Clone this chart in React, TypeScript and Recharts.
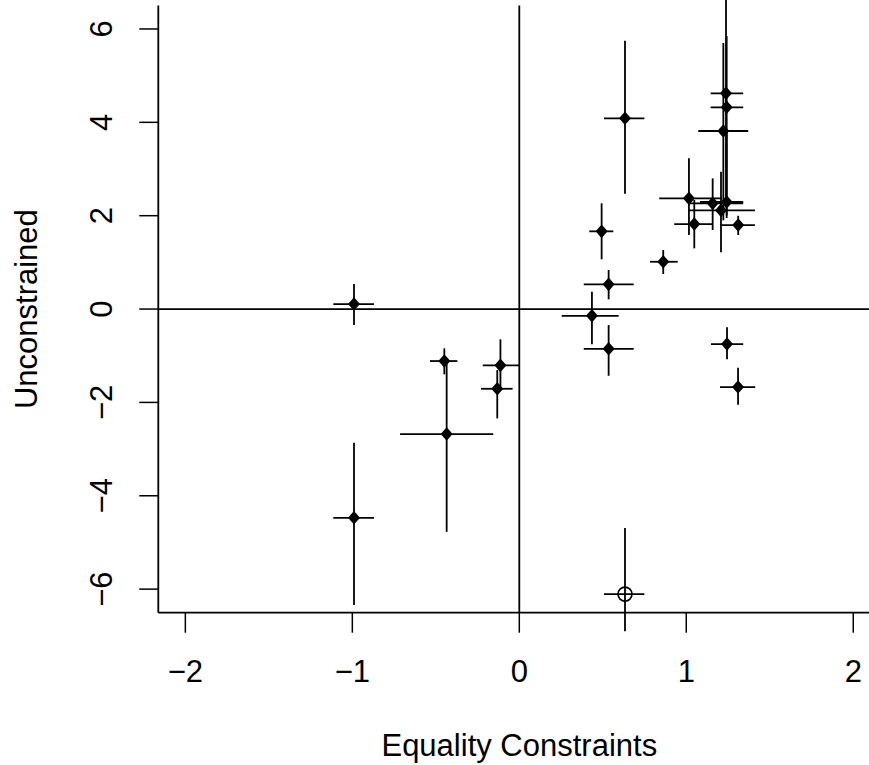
import { ScatterChart, Scatter, XAxis, YAxis, ReferenceLine, ErrorBar } from "recharts"

// point estimates (diamonds)
const xVals = [-0.99, -0.449, -0.435, -0.113, -0.132, -0.99, 0.435, 0.535, 0.535, 1.244, 1.31, 0.493, 0.862, 0.633, 1.016, 1.048, 1.158, 1.208, 1.242, 1.238, 1.242, 1.222, 1.311]
const yVals = [0.107, -1.114, -2.678, -1.206, -1.708, -4.472, -0.144, -0.851, 0.529, -0.75, -1.671, 1.665, 1.013, 4.086, 2.372, 1.821, 2.265, 2.115, 2.293, 4.622, 4.322, 3.814, 1.8]
// interval ends
const xLow = [-1.114, -0.535, -0.714, -0.219, -0.229, -1.114, 0.254, 0.386, 0.386, 1.148, 1.202, 0.419, 0.783, 0.507, 0.838, 0.928, 1.022, 1.012, 1.082, 1.146, 1.146, 1.072, 1.202]
const xHigh = [-0.87, -0.371, -0.156, -0.002, -0.04, -0.87, 0.595, 0.685, 0.685, 1.341, 1.413, 0.563, 0.949, 0.749, 1.212, 1.156, 1.341, 1.411, 1.341, 1.341, 1.341, 1.371, 1.411]
const yLow = [-0.343, -1.399, -4.772, -1.693, -2.342, -6.342, -0.756, -1.429, 0.208, -1.078, -2.051, 1.065, 0.75, 2.471, 1.586, 1.301, 1.693, 1.215, 1.95, 2.2, 2.0, 1.9, 1.586]
const yHigh = [0.536, -0.842, -1.129, -0.649, -1.307, -2.865, 0.371, -0.343, 0.836, -0.392, -1.258, 2.265, 1.264, 5.749, 3.229, 2.336, 2.8, 2.942, 3.835, 7.2, 5.85, 5.7, 1.999]

// the one open-circle point
const outlierX = [0.633]
const outlierY = [-6.107]
const outlierXLow = [0.507]
const outlierXHigh = [0.749]
const outlierYLow = [-6.9]
const outlierYHigh = [-4.693]

const xTicks = [-2, -1, 0, 1, 2]
const yTicks = [-6, -4, -2, 0, 2, 4, 6]
const xDomain = [-2.162, 2.162]
const yDomain = [-6.505, 6.503]

const FONT = "'Liberation Sans', Arial, Helvetica, sans-serif"
const FS = 31
const LW = 1.8

const toRows = (xs: number[], ys: number[], xl: number[], xh: number[], yl: number[], yh: number[]) =>
  xs.map((x, i) => ({
    x,
    y: ys[i],
    ex: [x - xl[i], xh[i] - x],
    ey: [ys[i] - yl[i], yh[i] - ys[i]],
  }))

const points = toRows(xVals, yVals, xLow, xHigh, yLow, yHigh)
const outliers = toRows(outlierX, outlierY, outlierXLow, outlierXHigh, outlierYLow, outlierYHigh)

const fmt = (v: number) => (v < 0 ? `\u2212${-v}` : `${v}`)

const XTick = ({ x, y, payload }: any) => (
  <text x={x} y={y} dy={49} textAnchor="middle" fontSize={FS} fontFamily={FONT} fill="#000">
    {fmt(payload.value)}
  </text>
)

const YTick = ({ x, y, payload }: any) => (
  <text x={x - 27} y={y} transform={`rotate(-90, ${x - 27}, ${y})`} textAnchor="middle" fontSize={FS} fontFamily={FONT} fill="#000">
    {fmt(payload.value)}
  </text>
)

const Diamond = ({ cx, cy }: any) => {
  const w = 6
  const h = 6.8
  return <path d={`M${cx},${cy - h}L${cx + w},${cy}L${cx},${cy + h}L${cx - w},${cy}Z`} fill="#000" />
}

const OpenCircle = ({ cx, cy }: any) => (
  <circle cx={cx} cy={cy} r={7} fill="none" stroke="#000" strokeWidth={1.6} />
)

export default function App() {
  return (
    <div style={{ position: "absolute", left: 0, top: 0, width: 869, height: 765, overflow: "hidden", background: "#fff" }}>
      <ScatterChart width={900} height={765} margin={{ top: 5.5, right: 19.7, bottom: 0, left: 0 }}>
        <XAxis
          type="number"
          dataKey="x"
          domain={xDomain}
          ticks={xTicks}
          allowDataOverflow
          height={152.3}
          tickSize={20}
          tickMargin={0}
          tick={<XTick />}
          tickLine={{ stroke: "#000", strokeWidth: 1.5 }}
          axisLine={{ stroke: "#000", strokeWidth: LW }}
          label={({ viewBox }: any) => (
            <text x={viewBox.x + viewBox.width / 2} y={viewBox.y + 143.3} textAnchor="middle" fontSize={FS} fontFamily={FONT} fill="#000">
              Equality Constraints
            </text>
          )}
        />
        <XAxis
          xAxisId="top"
          orientation="top"
          type="number"
          domain={xDomain}
          allowDataOverflow
          height={0}
          tick={false}
          tickLine={false}
          axisLine={{ stroke: "#000", strokeWidth: LW }}
        />
        <YAxis
          type="number"
          dataKey="y"
          domain={yDomain}
          ticks={yTicks}
          allowDataOverflow
          width={158.3}
          tickSize={19}
          tickMargin={0}
          tick={<YTick />}
          tickLine={{ stroke: "#000", strokeWidth: 1.5 }}
          axisLine={{ stroke: "#000", strokeWidth: LW }}
          label={({ viewBox }: any) => {
            const cx = 37
            const cy = viewBox.y + viewBox.height / 2
            return (
              <text x={cx} y={cy} transform={`rotate(-90, ${cx}, ${cy})`} textAnchor="middle" fontSize={FS} fontFamily={FONT} fill="#000">
                Unconstrained
              </text>
            )
          }}
        />
        <YAxis
          yAxisId="right"
          orientation="right"
          type="number"
          domain={yDomain}
          allowDataOverflow
          width={0}
          tick={false}
          tickLine={false}
          axisLine={{ stroke: "#000", strokeWidth: LW }}
        />
        <ReferenceLine x={0} stroke="#000" strokeWidth={LW} />
        <ReferenceLine y={0} stroke="#000" strokeWidth={LW} />
        <Scatter data={points} shape={<Diamond />} isAnimationActive={false}>
          <ErrorBar dataKey="ey" direction="y" width={0} stroke="#000" strokeWidth={LW} isAnimationActive={false} />
          <ErrorBar dataKey="ex" direction="x" width={0} stroke="#000" strokeWidth={LW} isAnimationActive={false} />
        </Scatter>
        <Scatter data={outliers} shape={<OpenCircle />} isAnimationActive={false}>
          <ErrorBar dataKey="ey" direction="y" width={0} stroke="#000" strokeWidth={LW} isAnimationActive={false} />
          <ErrorBar dataKey="ex" direction="x" width={0} stroke="#000" strokeWidth={LW} isAnimationActive={false} />
        </Scatter>
      </ScatterChart>
    </div>
  )
}
